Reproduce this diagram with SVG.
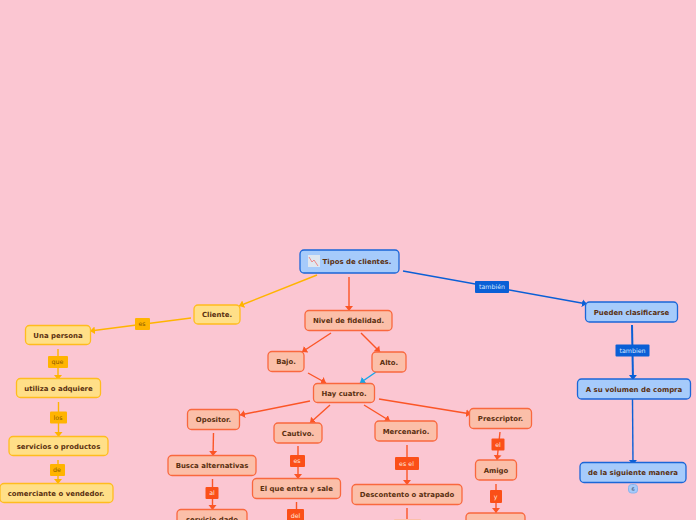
<svg xmlns="http://www.w3.org/2000/svg" width="696" height="520" viewBox="0 0 696 520">
<style>
.n rect{stroke-width:1.3}
.n text{font:bold 6.95px "DejaVu Sans",sans-serif;fill:#5a3010;text-anchor:middle}
.b rect{fill:#a6cbfb;stroke:#1a66d8}
.o rect{fill:#fbbfa9;stroke:#f9683e}
.y rect{fill:#ffdf88;stroke:#ffbc1e}
.c{fill:none;stroke-width:1.4}
.t{stroke-width:2}
.co{stroke:#fb5526}.cy{stroke:#ffb400}.cb{stroke:#0a5fd6}.cl{stroke:#14a5e8}
.l text{font:6.3px "DejaVu Sans",sans-serif;text-anchor:middle}
.lo rect{fill:#fb4f18}.lo text{fill:#ffe6dc}
.ly rect{fill:#ffb400}.ly text{fill:#8a5a00}
.lb rect{fill:#0a5fd6}.lb text{fill:#d6e8ff}
.stub{fill:#fbbfa9}
</style>
<defs>
<marker id="mo" markerUnits="userSpaceOnUse" markerWidth="6" markerHeight="9" refX="5" refY="4.500" orient="auto"><path d="M0 .5L5 4.500L0 8.500Z" fill="#fb5526"/></marker>
<marker id="my" markerUnits="userSpaceOnUse" markerWidth="6" markerHeight="9" refX="5" refY="4.500" orient="auto"><path d="M0 .5L5 4.500L0 8.500Z" fill="#ffb400"/></marker>
<marker id="mb" markerUnits="userSpaceOnUse" markerWidth="6" markerHeight="9" refX="5" refY="4.500" orient="auto"><path d="M0 .5L5 4.500L0 8.500Z" fill="#0a5fd6"/></marker>
<marker id="ml" markerUnits="userSpaceOnUse" markerWidth="6" markerHeight="9" refX="5" refY="4.500" orient="auto"><path d="M0 .5L5 4.500L0 8.500Z" fill="#14a5e8"/></marker>
</defs>
<rect width="696" height="520" fill="#fbc6d2"/>
<g id="connectors">
<path class="c cy" marker-end="url(#my)" d="M317 275L239 306"/>
<path class="c cy" marker-end="url(#my)" d="M191 318L90 331"/>
<path class="c cy" marker-end="url(#my)" d="M58 349V380"/>
<path class="c cy" marker-end="url(#my)" d="M58.500 402V437"/>
<path class="c cy" marker-end="url(#my)" d="M58 460V484"/>
<path class="c co" marker-end="url(#mo)" d="M349 277V311"/>
<path class="c co" marker-end="url(#mo)" d="M331 333L302 352"/>
<path class="c co" marker-end="url(#mo)" d="M361 333L380 352"/>
<path class="c co" marker-end="url(#mo)" d="M308 373L326 383"/>
<path class="c cl" marker-end="url(#ml)" d="M376 372L360 383"/>
<path class="c co" marker-end="url(#mo)" d="M310 401L240 415"/>
<path class="c co" marker-end="url(#mo)" d="M330 405L310 423"/>
<path class="c co" marker-end="url(#mo)" d="M364 405L390 421"/>
<path class="c co" marker-end="url(#mo)" d="M379 399L471 414"/>
<path class="c co" marker-end="url(#mo)" d="M213.500 433L213 456"/>
<path class="c co" marker-end="url(#mo)" d="M212.500 479V510"/>
<path class="c co" marker-end="url(#mo)" d="M298 446V479"/>
<path class="c co" marker-end="url(#mo)" d="M296.500 502V520"/>
<path class="c co" marker-end="url(#mo)" d="M407 445V485"/>
<path class="c co" d="M407 508V520"/>
<path class="c co" marker-end="url(#mo)" d="M500 432L497 460"/>
<path class="c co" marker-end="url(#mo)" d="M496 484V513"/>
<path class="c cb" marker-end="url(#mb)" d="M403 271L587 304"/>
<path class="c cb t" marker-end="url(#mb)" d="M632 325L633 380"/>
<path class="c cb" marker-end="url(#mb)" d="M632.500 399L633 465"/>
</g>
<g class="l lo"><rect x="205.500" y="487" width="13" height="12" rx="1"/><text x="212" y="495">al</text></g>
<g class="l lo"><rect x="290" y="455" width="15" height="12" rx="1"/><text x="297" y="463">es</text></g>
<g class="l lo"><rect x="287" y="509" width="17" height="12" rx="1"/><text x="295.500" y="518">del</text></g>
<g class="l lo"><rect x="395" y="457" width="24" height="13" rx="1"/><text x="406.500" y="465.500">es el</text></g>
<rect class="stub" x="394" y="519" width="27" height="3" rx="1"/>
<g class="l lo"><rect x="491.500" y="438.500" width="13" height="12" rx="1"/><text x="498" y="446.500">el</text></g>
<g class="l lo"><rect x="490" y="490" width="12" height="13" rx="1"/><text x="495.500" y="498.500">y</text></g>
<g class="l ly"><rect x="135" y="318" width="15" height="12" rx="1"/><text x="142" y="326">es</text></g>
<g class="l ly"><rect x="48" y="356" width="20" height="12" rx="1"/><text x="57.500" y="364">que</text></g>
<g class="l ly"><rect x="50" y="411.500" width="17" height="12" rx="1"/><text x="58" y="419.500">los</text></g>
<g class="l ly"><rect x="50" y="464" width="15" height="12" rx="1"/><text x="57" y="472">de</text></g>
<g class="l lb"><rect x="475" y="281" width="34" height="12" rx="1"/><text x="492" y="289">también</text></g>
<g class="l lb"><rect x="615.500" y="344.500" width="34" height="12" rx="1"/><text x="632.500" y="352.500">tambien</text></g>
<g id="n-root" class="n b"><rect x="300" y="250" width="99" height="23" rx="4"/><rect x="308" y="255" width="12" height="12" style="fill:#dfe7f0;stroke:none"/><path d="M309 257L312 262L314 260L318 266" fill="none" stroke="#e88" stroke-width="1"/><text x="357" y="264">Tipos de clientes.</text></g>
<g id="n-cliente" class="n y"><rect x="194" y="305" width="46" height="19" rx="4"/><text x="217" y="317">Cliente.</text></g>
<g id="n-persona" class="n y"><rect x="25.500" y="325.500" width="65" height="19" rx="4"/><text x="58" y="338">Una persona</text></g>
<g id="n-utiliza" class="n y"><rect x="16.500" y="378.500" width="84" height="19" rx="4"/><text x="58.500" y="391">utiliza o adquiere</text></g>
<g id="n-servicios" class="n y"><rect x="9" y="436.500" width="99" height="19" rx="4"/><text x="58.500" y="449">servicios o productos</text></g>
<g id="n-comerciante" class="n y"><rect x="0" y="483.500" width="113" height="19" rx="4"/><text x="56" y="496">comerciante o vendedor.</text></g>
<g id="n-nivel" class="n o"><rect x="305" y="310.500" width="87" height="20" rx="4"/><text x="348.500" y="323">Nivel de fidelidad.</text></g>
<g id="n-bajo" class="n o"><rect x="268" y="351.500" width="36" height="20" rx="4"/><text x="286" y="364">Bajo.</text></g>
<g id="n-alto" class="n o"><rect x="372" y="352" width="34" height="20" rx="4"/><text x="389" y="365">Alto.</text></g>
<g id="n-hay" class="n o"><rect x="313.500" y="383.500" width="61" height="19" rx="4"/><text x="344" y="396">Hay cuatro.</text></g>
<g id="n-opositor" class="n o"><rect x="187.500" y="409.500" width="52" height="20" rx="4"/><text x="213.500" y="422">Opositor.</text></g>
<g id="n-cautivo" class="n o"><rect x="274" y="423" width="48" height="20" rx="4"/><text x="298" y="436">Cautivo.</text></g>
<g id="n-mercenario" class="n o"><rect x="375" y="421" width="62" height="20" rx="4"/><text x="406" y="434">Mercenario.</text></g>
<g id="n-prescriptor" class="n o"><rect x="469.500" y="408.500" width="62" height="20" rx="4"/><text x="500.500" y="421">Prescriptor.</text></g>
<g id="n-busca" class="n o"><rect x="168" y="455.500" width="88" height="20" rx="4"/><text x="212" y="468">Busca alternativas</text></g>
<g id="n-servicio" class="n o"><rect x="177" y="509.500" width="70" height="20" rx="4"/><text x="212" y="522">servicio dado</text></g>
<g id="n-entra" class="n o"><rect x="252.500" y="478.500" width="88" height="20" rx="4"/><text x="296.500" y="491">El que entra y sale</text></g>
<g id="n-descontento" class="n o"><rect x="352" y="484.500" width="110" height="20" rx="4"/><text x="407" y="497">Descontento o atrapado</text></g>
<g id="n-amigo" class="n o"><rect x="475.500" y="460" width="41" height="20" rx="4"/><text x="496" y="473">Amigo</text></g>
<g id="n-bottom" class="n o"><rect x="466" y="513" width="59" height="20" rx="4"/></g>
<g id="n-pueden" class="n b"><rect x="585.500" y="302" width="92" height="20" rx="4"/><text x="631.500" y="315">Pueden clasificarse</text></g>
<g id="n-volumen" class="n b"><rect x="577.500" y="379" width="113" height="20" rx="4"/><text x="634" y="392">A su volumen de compra</text></g>
<g id="n-manera" class="n b"><rect x="580" y="462.500" width="106" height="20" rx="4"/><text x="633" y="475">de la siguiente manera</text></g>
<g id="n-badge"><rect x="628.500" y="484.500" width="9" height="8.500" rx="3" fill="#a6cbfb" stroke="#8ab4ee"/><text x="633" y="491" font-family="DejaVu Sans, sans-serif" font-size="5" text-anchor="middle" fill="#345">6</text></g>
</svg>
